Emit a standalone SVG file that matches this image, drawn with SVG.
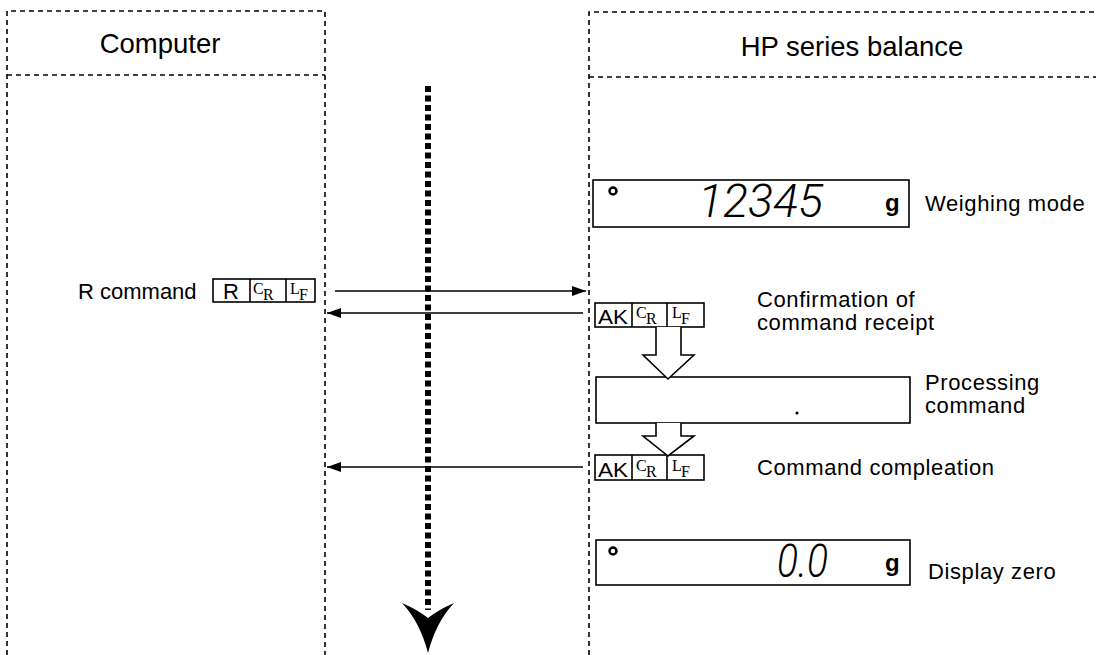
<svg xmlns="http://www.w3.org/2000/svg" width="1096" height="655" viewBox="0 0 1096 655">
<defs>
<style>
.lane{fill:none;stroke:#000;stroke-width:1.6;stroke-dasharray:5 4}
.box{fill:#fff;stroke:#000;stroke-width:1.6}
.lbl{font-family:"Liberation Sans",Arial,sans-serif;font-size:22px;fill:#000}
.rl{letter-spacing:0.6px}
.hdr{font-family:"Liberation Sans",Arial,sans-serif;font-size:27.5px;fill:#000;text-anchor:middle}
.serif{font-family:"Liberation Serif","Times New Roman",serif;fill:#000}
.cell{font-family:"Liberation Sans",Arial,sans-serif;fill:#000}
.lcd{font-family:Roboto,"DejaVu Sans",sans-serif;font-style:italic;font-weight:300;font-size:46px;fill:#000}
.conn{stroke:#000;stroke-width:1.6;fill:none}
.hollow{fill:#fff;stroke:#000;stroke-width:1.6;stroke-linejoin:miter}
</style>
<marker id="ah" viewBox="0 0 14 10" refX="14" refY="5" markerWidth="14" markerHeight="10" markerUnits="userSpaceOnUse" orient="auto">
<path d="M0,0 L14,5 L0,10 Z" fill="#000"/>
</marker>
</defs>
<rect width="1096" height="655" fill="#fff"/>

<g id="lane-computer">
<path class="lane" d="M7,655 V11 H325 V655 M7,75 H325"/>
<text class="hdr" x="160" y="53">Computer</text>
</g>

<g id="lane-balance">
<path class="lane" d="M589,655 V12 H1096 M589,77 H1096"/>
<text class="hdr" x="852" y="56">HP series balance</text>
</g>

<g id="time-arrow">
<line x1="428" y1="86" x2="428" y2="610" stroke="#000" stroke-width="6" stroke-dasharray="6 3.5"/>
<path d="M402,603 Q418,610 428,618 Q438,610 454,603 Q436,622 428,653 Q420,622 402,603 Z" fill="#000"/>
</g>

<g id="weighing-mode">
<rect class="box" x="593" y="180" width="316" height="47"/>
<circle cx="613" cy="191" r="3.5" fill="none" stroke="#000" stroke-width="2.5"/>
<text class="lcd" x="698" y="217" textLength="125" lengthAdjust="spacingAndGlyphs">12345</text>
<text class="cell" x="885" y="211" font-size="24" font-weight="bold">g</text>
<text class="lbl rl" x="925" y="211">Weighing mode</text>
</g>

<g id="r-command">
<text class="lbl" x="78" y="299">R command</text>
<rect class="box" x="213" y="279" width="102" height="23"/>
<line class="conn" x1="250" y1="279" x2="250" y2="302"/>
<line class="conn" x1="286" y1="279" x2="286" y2="302"/>
<text class="cell" x="231" y="299" font-size="22" text-anchor="middle">R</text>
<text class="serif" x="253" y="294" font-size="16">C</text><text class="serif" x="263" y="300" font-size="16">R</text>
<text class="serif" x="290" y="294" font-size="16">L</text><text class="serif" x="299" y="300" font-size="16">F</text>
</g>

<g id="confirmation">
<rect class="box" x="595" y="303" width="109" height="24"/>
<line class="conn" x1="632" y1="303" x2="632" y2="327"/>
<line class="conn" x1="667" y1="303" x2="667" y2="327"/>
<text class="cell" x="613" y="324" font-size="21" text-anchor="middle" textLength="30" lengthAdjust="spacingAndGlyphs">AK</text>
<text class="serif" x="636" y="318" font-size="16">C</text><text class="serif" x="646" y="324" font-size="16">R</text>
<text class="serif" x="672" y="318" font-size="16">L</text><text class="serif" x="681" y="324" font-size="16">F</text>
<text class="lbl rl" x="757" y="307">Confirmation of</text>
<text class="lbl rl" x="757" y="330">command receipt</text>
</g>

<g id="processing">
<rect class="box" x="596" y="377" width="314" height="46"/>
<circle cx="797" cy="413" r="1.6" fill="#000"/>
<text class="lbl rl" x="925" y="390">Processing</text>
<text class="lbl rl" x="925" y="413">command</text>
</g>

<g id="completion">
<rect class="box" x="595" y="455" width="109" height="25"/>
<line class="conn" x1="632" y1="455" x2="632" y2="480"/>
<line class="conn" x1="667" y1="455" x2="667" y2="480"/>
<text class="cell" x="613" y="477" font-size="21" text-anchor="middle" textLength="30" lengthAdjust="spacingAndGlyphs">AK</text>
<text class="serif" x="636" y="471" font-size="16">C</text><text class="serif" x="646" y="477" font-size="16">R</text>
<text class="serif" x="672" y="471" font-size="16">L</text><text class="serif" x="681" y="477" font-size="16">F</text>
<text class="lbl rl" x="757" y="475">Command compleation</text>
</g>

<g id="display-zero">
<rect class="box" x="596" y="540" width="314" height="45"/>
<circle cx="613" cy="551" r="3.5" fill="none" stroke="#000" stroke-width="2.5"/>
<text class="lcd" x="777" y="577" textLength="51" lengthAdjust="spacingAndGlyphs">0.0</text>
<text class="cell" x="885" y="571" font-size="24" font-weight="bold">g</text>
<text class="lbl rl" x="928" y="579">Display zero</text>
</g>

<g id="connectors">
<line class="conn" x1="335" y1="291" x2="586" y2="291" marker-end="url(#ah)"/>
<line class="conn" x1="583" y1="313" x2="327" y2="313" marker-end="url(#ah)"/>
<line class="conn" x1="583" y1="467" x2="327" y2="467" marker-end="url(#ah)"/>
<path class="hollow" d="M656,327 V355 H643 L668,379 L694,355 H681 V327"/>
<path class="hollow" d="M656,423 V436 H643 L668,456 L694,436 H681 V423"/>
</g>
</svg>
